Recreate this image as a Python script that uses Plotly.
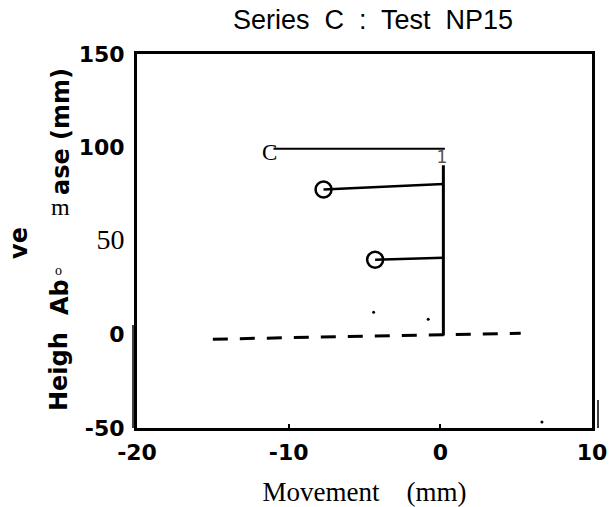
import plotly.graph_objects as go

# ---------------- data ----------------
top_line_x = [-11.0, 0.3]
top_line_y = [99.3, 99.3]
stem_x = [0.2, 0.2]
stem_y = [90.5, -0.5]
arm1_x = [-7.7, 0.2]
arm1_y = [77.5, 80.5]
arm2_x = [-4.3, 0.2]
arm2_y = [40.0, 41.0]
circle_x = [-7.7, -4.3]
circle_y = [77.5, 40.0]
ground_x = [-15.0, 5.3]
ground_y = [-2.5, 0.7]
speck_x = [-4.4, -0.8, 6.7]
speck_y = [11.9, 8.1, -46.8]
mark_C = {"x": -11.25, "y": 96.5, "text": "C"}
mark_1 = {"x": 0.1, "y": 94.0, "text": "1"}

x_ticks = [-20, -10, 0, 10]
x_ticktext = ["-20", "-10", "0", "10"]
y_ticks = [-50, 0, 50, 100, 150]
y_ticktext = ["-50", "0",
              "<span style='font-family:Liberation Serif;font-weight:normal;font-size:28px'>50</span>",
              "100", "150"]

title_text = "Series  C  :  Test  NP15"
x_title = "Movement    (mm)"

W, H = 609, 507
L, R, T, B = 137, 17, 54, 79
PW, PH = W - L - R, H - T - B


def px(xp):
    return (xp - L) / PW


def py(yp):
    return (H - B - yp) / PH


fig = go.Figure()
line_style = dict(color="black", width=2.5)
fig.add_trace(go.Scatter(x=top_line_x, y=top_line_y, mode="lines", line=dict(color="black", width=2)))
fig.add_trace(go.Scatter(x=stem_x, y=stem_y, mode="lines", line=dict(color="black", width=3)))
fig.add_trace(go.Scatter(x=arm1_x, y=arm1_y, mode="lines", line=line_style))
fig.add_trace(go.Scatter(x=arm2_x, y=arm2_y, mode="lines", line=line_style))
fig.add_trace(go.Scatter(x=circle_x, y=circle_y, mode="markers",
                         marker=dict(symbol="circle-open", size=16, color="black", line=dict(width=2.5))))
fig.add_trace(go.Scatter(x=ground_x, y=ground_y, mode="lines",
                         line=dict(color="black", width=3, dash="15px,12px")))
fig.add_trace(go.Scatter(x=speck_x, y=speck_y, mode="markers",
                         marker=dict(size=3, color="black")))
fig.add_trace(go.Scatter(x=[mark_C["x"]], y=[mark_C["y"]], mode="text", text=[mark_C["text"]],
                         textfont=dict(family="Liberation Serif", size=23, color="black")))
fig.add_trace(go.Scatter(x=[mark_1["x"]], y=[mark_1["y"]], mode="text", text=[mark_1["text"]],
                         textfont=dict(family="DejaVu Sans", size=17, color="#555")))

tick_font = dict(family="DejaVu Sans", size=22, color="black", weight="bold")
axis_common = dict(showgrid=False, zeroline=False, showline=True, linecolor="black",
                   linewidth=3, mirror=True)
fig.update_xaxes(range=[-20, 10], tickvals=x_ticks, ticktext=x_ticktext,
                 ticks="inside", ticklen=4, tickwidth=1.5, tickcolor="black",
                 tickfont=tick_font, ticklabelstandoff=3,
                 title=dict(text=x_title, font=dict(family="Liberation Serif", size=27, color="black"),
                            standoff=21),
                 **axis_common)
fig.update_yaxes(range=[-50, 150], tickvals=y_ticks, ticktext=y_ticktext,
                 ticks="", tickfont=tick_font,
                 ticklabelstandoff=5,
                 **axis_common)

ylab_font = dict(family="DejaVu Sans", size=24, color="black", weight="bold")
annotations = [
    dict(text=title_text, x=px(373), y=py(20), font=dict(family="Liberation Sans", size=27, color="black")),
    dict(text="ase (mm)", x=px(61), y=py(132), textangle=-90, font=ylab_font),
    dict(text="m", x=px(60), y=py(207), font=dict(family="Liberation Serif", size=24, color="black")),
    dict(text="ve", x=px(19), y=py(243), textangle=-90, font=ylab_font),
    dict(text="o", x=px(58), y=py(270), font=dict(family="Liberation Serif", size=14, color="black")),
    dict(text="Ab", x=px(60), y=py(297), textangle=-90, font=ylab_font),
    dict(text="Heigh", x=px(59), y=py(372), textangle=-90, font=ylab_font),
]
for a in annotations:
    a.update(xref="paper", yref="paper", showarrow=False, xanchor="center", yanchor="middle")
fig.update_layout(annotations=annotations)

# scan double-edge artefacts of the frame
fig.add_shape(type="line", xref="paper", yref="paper", x0=px(133), x1=px(133), y0=py(325), y1=py(428),
              line=dict(color="black", width=1.5))
fig.add_shape(type="line", xref="paper", yref="paper", x0=px(598), x1=px(598), y0=py(400), y1=py(428),
              line=dict(color="black", width=1.5))

fig.update_layout(width=W, height=H, margin=dict(l=L, r=R, t=T, b=B, pad=0),
                  paper_bgcolor="white", plot_bgcolor="white", showlegend=False,
                  template="none")

fig.write_html("out.html")
